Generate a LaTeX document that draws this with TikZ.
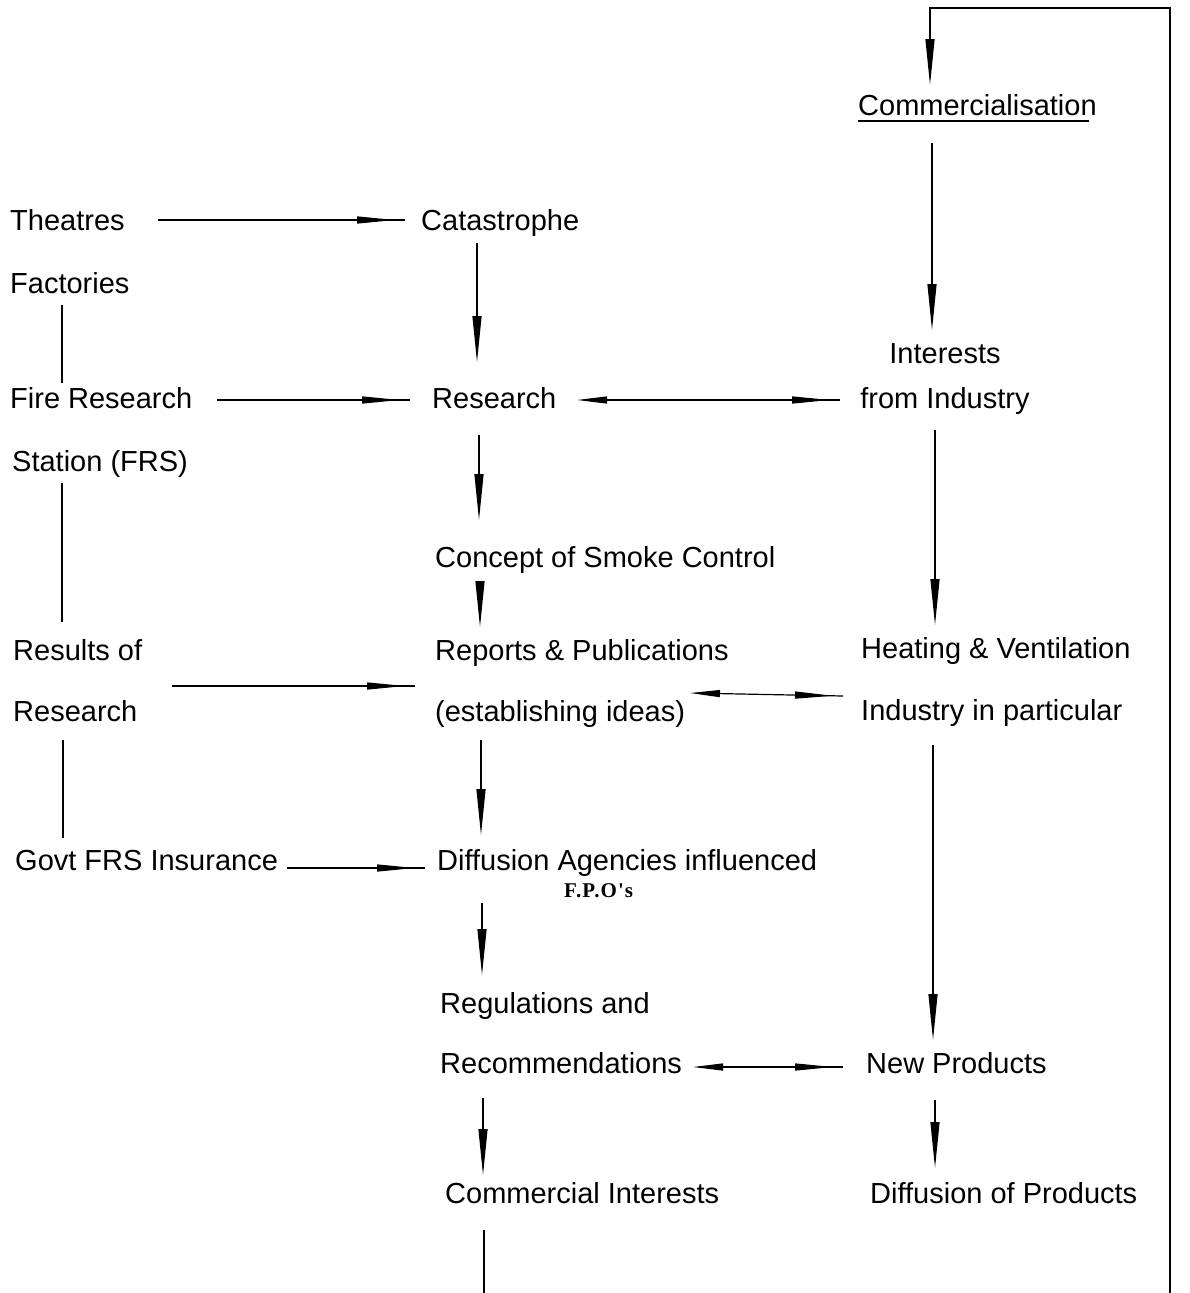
\documentclass[tikz,border=0pt]{standalone}
\usepackage{fontspec}
\setmainfont{Liberation Sans}
\newfontfamily\fposerif[LetterSpace=5]{Liberation Serif}
\usetikzlibrary{arrows.meta,decorations.markings,calc}

\tikzset{
  lbl/.style={anchor=base west, inner sep=0pt, font=\fontsize{29}{35}\selectfont},
  lblc/.style={lbl, anchor=base},
  link/.style={draw=black, line width=1.2pt},
  vflow/.style={link, -{Triangle[length=46pt,width=9pt]}},
  hflow/.style={link, postaction={decorate}, decoration={markings,
      mark=at position -10pt with {\arrow{Triangle[length=38pt,width=7pt]}}}},
  biflow/.style={link, {Triangle[length=30pt,width=7pt]}-, postaction={decorate},
      decoration={markings,
      mark=at position -10pt with {\arrow{Triangle[length=38pt,width=7pt]}}}},
}

\begin{document}
\begin{tikzpicture}[x=1pt,y=-1pt]
\useasboundingbox[fill=white] (0,0) rectangle (1189,1293);

% ---- text ----
\node[lbl] (comm) at (858,115) {Commercialisation};
\node[lbl] (theatres) at (10,230) {Theatres};
\node[lbl] (cat) at (421,230) {Catastrophe};
\node[lbl] (fact) at (10,293) {Factories};
\node[lbl] (fire) at (10,408) {Fire Research};
\node[lbl] (res) at (432,408) {Research};
\node[lblc] (int1) at (945,363) {Interests};
\node[lblc] (int2) at (945,408) {from Industry};
\node[lbl] (station) at (12,471) {Station (FRS)};
\node[lbl] (concept) at (435,567) {Concept of Smoke Control};
\node[lbl] (resof) at (13,660) {Results of};
\node[lbl] (research2) at (13,721) {Research};
\node[lbl] (reports) at (435,660) {Reports \& Publications};
\node[lbl] (estab) at (435,721) {(establishing ideas)};
\node[lbl] (heat1) at (861,658) {Heating \& Ventilation};
\node[lbl] (heat2) at (861,720) {Industry in particular};
\node[lbl] (govt) at (15,870) {Govt FRS Insurance};
\node[lbl] (diff) at (437,870) {Diffusion Agencies influenced};
\node[lbl, font=\fposerif\bfseries\fontsize{21}{24}\selectfont] (fpo) at (564,897) {F.P.O's};
\node[lbl] (reg) at (440,1013) {Regulations and};
\node[lbl] (rec) at (440,1073) {Recommendations};
\node[lbl] (newp) at (866,1073) {New Products};
\node[lbl] (comint) at (445,1203) {Commercial Interests};
\node[lbl] (diffp) at (870,1203) {Diffusion of Products};

% underline of the heading
\draw[link] ($(comm.base west)+(0,6)$) -- ($(comm.base east)+(-8,6)$);

% ---- free ends of the feedback loop ----
\coordinate (loopbot) at (1170,1293);
\coordinate (looptop) at (1170,8);
\coordinate (loopturn) at (930,8);
\coordinate (bot) at (484,1293);

% ---- connectors ----
\draw[hflow] ($(theatres.base west)+(148,-10)$) -- ($(cat.base west)+(-16,-10)$);
\draw[vflow] ($(cat.base west)+(56,13)$) -- ($(res.base west)+(45,-46)$);
\draw[link] ($(fact.base west)+(52,12)$) -- ($(fire.base west)+(52,-25)$);
\draw[hflow] ($(fire.base west)+(207,-8)$) -- ($(res.base west)+(-22,-8)$);
\draw[biflow] ($(res.base west)+(145,-8)$) -- ($(int2.base)+(-105,-8)$);
\draw[link] ($(station.base west)+(50,12)$) -- ($(resof.base west)+(49,-38)$);
\draw[vflow] ($(res.base west)+(47,27)$) -- ($(concept.base west)+(44,-47)$);
\draw[vflow] ($(concept.base west)+(45,16)$) -- ($(reports.base west)+(45,-33)$);
\draw[vflow] ($(int2.base)+(-10,22)$) -- ($(heat1.base west)+(74,-33)$);
\draw[vflow] ($(comm.base west)+(74,28)$) -- ($(int1.base)+(-13,-33)$);
\draw[vflow] (loopbot) -- (looptop) -- (loopturn) -- ($(comm.base west)+(72,-30)$);
\draw[hflow] ($(research2.base west)+(159,-35)$) -- ($(estab.base west)+(-20,-35)$);
\draw[biflow] ($(estab.base west)+(255,-28)$) -- ($(heat2.base west)+(-18,-24)$);
\draw[link] ($(research2.base west)+(50,19)$) -- ($(govt.base west)+(48,-32)$);
\draw[hflow] ($(govt.base west)+(272,-2)$) -- ($(diff.base west)+(-12,-2)$);
\draw[vflow] ($(estab.base west)+(46,19)$) -- ($(diff.base west)+(44,-35)$);
\draw[vflow] ($(diff.base west)+(45,33)$) -- ($(reg.base west)+(42,-38)$);
\draw[vflow] ($(heat2.base west)+(72,25)$) -- ($(newp.base west)+(67,-33)$);
\draw[biflow] ($(rec.base west)+(253,-6)$) -- ($(newp.base west)+(-23,-6)$);
\draw[vflow] ($(rec.base west)+(43,25)$) -- ($(comint.base west)+(38,-28)$);
\draw[vflow] ($(newp.base west)+(69,27)$) -- ($(diffp.base west)+(65,-35)$);
\draw[link] ($(comint.base west)+(39,27)$) -- (bot);
\end{tikzpicture}
\end{document}
